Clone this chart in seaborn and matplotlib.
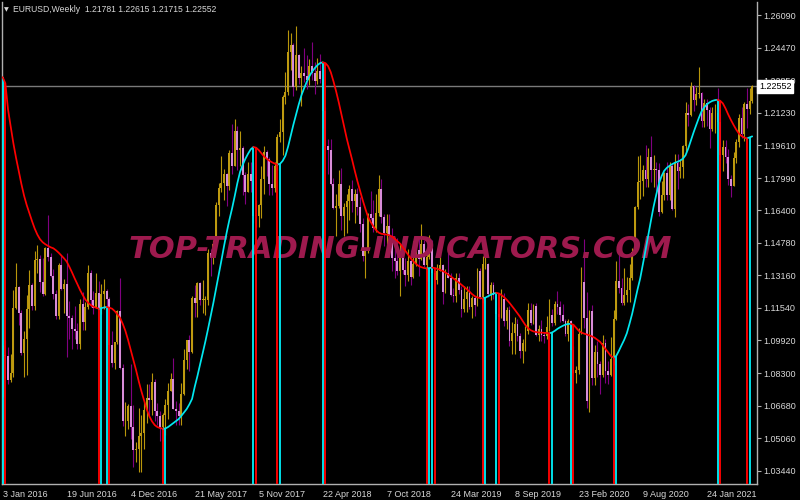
import numpy as np
import pandas as pd
import matplotlib
matplotlib.use("Agg")
import matplotlib.pyplot as plt
import matplotlib.transforms as mtransforms
import seaborn as sns

# ---------------- data (weekly EURUSD, week starting 3 Jan 2016 = bar 0) ----------------
first_open = 1.0865

close = [
    1.0920, 1.0915, 1.0795, 1.0830, 1.1155, 1.1260, 1.1130, 1.0930, 1.1000, 1.1150,
    1.1270, 1.1165, 1.1390, 1.1395, 1.1285, 1.1225, 1.1450, 1.1405, 1.1310, 1.1225,
    1.1115, 1.1365, 1.1250, 1.1275, 1.1115, 1.1105, 1.1050, 1.1040, 1.0975, 1.1175,
    1.1085, 1.1160, 1.1325, 1.1195, 1.1155, 1.1230, 1.1155, 1.1225, 1.1240, 1.1200,
    1.0970, 1.0880, 1.0985, 1.1140, 1.0855, 1.0590, 1.0590, 1.0665, 1.0560, 1.0450,
    1.0455, 1.0520, 1.0530, 1.0645, 1.0705, 1.0695, 1.0785, 1.0640, 1.0615, 1.0560,
    1.0620, 1.0670, 1.0740, 1.0800, 1.0650, 1.0640, 1.0615, 1.0725, 1.0895, 1.0995,
    1.0935, 1.1205, 1.1180, 1.1280, 1.1195, 1.1195, 1.1195, 1.1425, 1.1400, 1.1470,
    1.1665, 1.1750, 1.1775, 1.1820, 1.1760, 1.1925, 1.1860, 1.2035, 1.1940, 1.1950,
    1.1815, 1.1730, 1.1820, 1.1785, 1.1610, 1.1610, 1.1665, 1.1795, 1.1930, 1.1895,
    1.1770, 1.1750, 1.1860, 1.2005, 1.2030, 1.2200, 1.2225, 1.2425, 1.2460, 1.2250,
    1.2410, 1.2295, 1.2320, 1.2305, 1.2285, 1.2355, 1.2320, 1.2280, 1.2330, 1.2290,
    1.2130, 1.1960, 1.1940, 1.1770, 1.1650, 1.1660, 1.1770, 1.1610, 1.1655, 1.1685,
    1.1745, 1.1685, 1.1720, 1.1655, 1.1570, 1.1410, 1.1440, 1.1620, 1.1600, 1.1550,
    1.1625, 1.1745, 1.1605, 1.1525, 1.1560, 1.1510, 1.1400, 1.1385, 1.1335, 1.1415,
    1.1340, 1.1315, 1.1385, 1.1305, 1.1370, 1.1440, 1.1395, 1.1470, 1.1365, 1.1405,
    1.1455, 1.1325, 1.1295, 1.1335, 1.1365, 1.1235, 1.1325, 1.1300, 1.1220, 1.1215,
    1.1300, 1.1245, 1.1150, 1.1200, 1.1235, 1.1160, 1.1205, 1.1170, 1.1335, 1.1210,
    1.1370, 1.1370, 1.1225, 1.1270, 1.1220, 1.1125, 1.1110, 1.1200, 1.1090, 1.1145,
    1.0990, 1.1030, 1.1075, 1.1015, 1.0940, 1.0980, 1.1040, 1.1145, 1.1080, 1.1165,
    1.1020, 1.1050, 1.1020, 1.1015, 1.1060, 1.1120, 1.1080, 1.1175, 1.1160, 1.1120,
    1.1090, 1.1025, 1.1090, 1.0945, 1.0830, 1.0845, 1.1025, 1.1285, 1.1105, 1.0690,
    1.1140, 1.0805, 1.0935, 1.0875, 1.0820, 1.0980, 1.0840, 1.0820, 1.0900, 1.1100,
    1.1290, 1.1255, 1.1180, 1.1220, 1.1245, 1.1300, 1.1430, 1.1655, 1.1780, 1.1785,
    1.1840, 1.1795, 1.1905, 1.1840, 1.1845, 1.1840, 1.1630, 1.1715, 1.1825, 1.1715,
    1.1860, 1.1645, 1.1875, 1.1835, 1.1855, 1.1960, 1.2120, 1.2110, 1.2255, 1.2185,
    1.2215, 1.2220, 1.2080, 1.2170, 1.2135, 1.2045, 1.2120, 1.2120, 1.2075, 1.1915,
    1.1955, 1.1905, 1.1795, 1.1760, 1.1900, 1.1980, 1.2095, 1.2020, 1.2165, 1.2140,
    1.2180, 1.22552,
]

high = [
    1.0970, 1.0993, 1.0960, 1.0927, 1.1245, 1.1376, 1.1265, 1.1145, 1.1040, 1.1218,
    1.1342, 1.1280, 1.1439, 1.1465, 1.1415, 1.1401, 1.1458, 1.1616, 1.1428, 1.1349,
    1.1245, 1.1375, 1.1416, 1.1298, 1.1428, 1.1188, 1.1120, 1.1164, 1.1078, 1.1198,
    1.1234, 1.1185, 1.1366, 1.1341, 1.1240, 1.1327, 1.1286, 1.1272, 1.1298, 1.1250,
    1.1210, 1.1040, 1.0985, 1.1145, 1.1300, 1.0875, 1.0688, 1.0675, 1.0874, 1.0670,
    1.0490, 1.0655, 1.0620, 1.0685, 1.0775, 1.0775, 1.0830, 1.0800, 1.0680, 1.0640,
    1.0630, 1.0700, 1.0780, 1.0830, 1.0905, 1.0690, 1.0680, 1.0780, 1.0950, 1.0995,
    1.1020, 1.1215, 1.1270, 1.1285, 1.1285, 1.1295, 1.1215, 1.1445, 1.1445, 1.1490,
    1.1680, 1.1775, 1.1910, 1.1845, 1.1825, 1.1940, 1.2070, 1.2090, 1.2060, 1.2035,
    1.1960, 1.1830, 1.1880, 1.1880, 1.1880, 1.1690, 1.1670, 1.1860, 1.1960, 1.1940,
    1.1905, 1.1865, 1.1880, 1.2020, 1.2090, 1.2210, 1.2325, 1.2535, 1.2520, 1.2470,
    1.2555, 1.2415, 1.2355, 1.2445, 1.2410, 1.2390, 1.2475, 1.2375, 1.2395, 1.2415,
    1.2340, 1.2150, 1.1995, 1.1995, 1.1800, 1.1720, 1.1840, 1.1850, 1.1675, 1.1720,
    1.1765, 1.1790, 1.1745, 1.1750, 1.1705, 1.1600, 1.1445, 1.1625, 1.1735, 1.1690,
    1.1720, 1.1815, 1.1795, 1.1620, 1.1620, 1.1620, 1.1550, 1.1455, 1.1500, 1.1470,
    1.1470, 1.1400, 1.1445, 1.1440, 1.1485, 1.1485, 1.1500, 1.1570, 1.1490, 1.1450,
    1.1515, 1.1490, 1.1340, 1.1370, 1.1420, 1.1370, 1.1345, 1.1450, 1.1325, 1.1255,
    1.1325, 1.1325, 1.1265, 1.1265, 1.1265, 1.1265, 1.1215, 1.1215, 1.1350, 1.1350,
    1.1410, 1.1410, 1.1375, 1.1285, 1.1285, 1.1230, 1.1160, 1.1250, 1.1230, 1.1160,
    1.1165, 1.1085, 1.1110, 1.1100, 1.1030, 1.1000, 1.1065, 1.1180, 1.1180, 1.1175,
    1.1180, 1.1070, 1.1095, 1.1035, 1.1115, 1.1200, 1.1150, 1.1190, 1.1240, 1.1190,
    1.1175, 1.1100, 1.1100, 1.1095, 1.0965, 1.0865, 1.1055, 1.1355, 1.1495, 1.1235,
    1.1145, 1.1170, 1.0970, 1.0990, 1.0890, 1.1020, 1.1000, 1.0890, 1.1010, 1.1145,
    1.1385, 1.1420, 1.1300, 1.1350, 1.1305, 1.1370, 1.1450, 1.1660, 1.1910, 1.1915,
    1.1865, 1.1965, 1.1950, 1.2010, 1.1915, 1.1880, 1.1875, 1.1785, 1.1830, 1.1880,
    1.1880, 1.1870, 1.1920, 1.1920, 1.1895, 1.1965, 1.2175, 1.2165, 1.2275, 1.2260,
    1.2250, 1.2350, 1.2225, 1.2190, 1.2190, 1.2150, 1.2150, 1.2165, 1.2245, 1.2115,
    1.1990, 1.1990, 1.1945, 1.1815, 1.1930, 1.1995, 1.2115, 1.2150, 1.2175, 1.2245,
    1.2245, 1.22615,
]

low = [
    1.0711, 1.0805, 1.0778, 1.0785, 1.0810, 1.1150, 1.1070, 1.0920, 1.0810, 1.0822,
    1.1055, 1.1145, 1.1145, 1.1325, 1.1234, 1.1215, 1.1216, 1.1385, 1.1305, 1.1200,
    1.1099, 1.1097, 1.1245, 1.1131, 1.0912, 1.0998, 1.0952, 1.1000, 1.0952, 1.0952,
    1.1045, 1.1045, 1.1150, 1.1157, 1.1123, 1.1155, 1.1150, 1.1125, 1.1150, 1.1050,
    1.0955, 1.0860, 1.0851, 1.0975, 1.0850, 1.0569, 1.0518, 1.0550, 1.0505, 1.0365,
    1.0390, 1.0340, 1.0340, 1.0455, 1.0580, 1.0620, 1.0620, 1.0590, 1.0570, 1.0495,
    1.0495, 1.0525, 1.0600, 1.0740, 1.0650, 1.0570, 1.0570, 1.0570, 1.0720, 1.0850,
    1.0840, 1.0930, 1.1110, 1.1110, 1.1170, 1.1130, 1.1120, 1.1170, 1.1310, 1.1370,
    1.1460, 1.1610, 1.1730, 1.1690, 1.1660, 1.1740, 1.1820, 1.1860, 1.1840, 1.1860,
    1.1715, 1.1670, 1.1730, 1.1730, 1.1575, 1.1555, 1.1555, 1.1600, 1.1720, 1.1810,
    1.1715, 1.1715, 1.1730, 1.1840, 1.1980, 1.1915, 1.2165, 1.2210, 1.2335, 1.2205,
    1.2235, 1.2265, 1.2155, 1.2275, 1.2240, 1.2260, 1.2285, 1.2215, 1.2265, 1.2270,
    1.2050, 1.1940, 1.1820, 1.1765, 1.1645, 1.1510, 1.1650, 1.1540, 1.1510, 1.1525,
    1.1590, 1.1630, 1.1575, 1.1615, 1.1530, 1.1385, 1.1300, 1.1425, 1.1590, 1.1530,
    1.1530, 1.1610, 1.1575, 1.1460, 1.1430, 1.1430, 1.1335, 1.1300, 1.1315, 1.1215,
    1.1320, 1.1265, 1.1290, 1.1270, 1.1300, 1.1360, 1.1310, 1.1390, 1.1355, 1.1290,
    1.1395, 1.1320, 1.1235, 1.1275, 1.1335, 1.1175, 1.1230, 1.1300, 1.1215, 1.1185,
    1.1185, 1.1225, 1.1110, 1.1135, 1.1135, 1.1150, 1.1105, 1.1115, 1.1165, 1.1200,
    1.1180, 1.1345, 1.1210, 1.1195, 1.1200, 1.1100, 1.1025, 1.1105, 1.1065, 1.1050,
    1.0965, 1.0925, 1.0925, 1.0990, 1.0905, 1.0880, 1.0940, 1.1025, 1.1070, 1.1075,
    1.1015, 1.0990, 1.0990, 1.0980, 1.1000, 1.1040, 1.1065, 1.1070, 1.1125, 1.1085,
    1.1085, 1.1015, 1.0990, 1.0945, 1.0830, 1.0780, 1.0825, 1.1025, 1.1055, 1.0655,
    1.0635, 1.0770, 1.0770, 1.0810, 1.0725, 1.0810, 1.0780, 1.0775, 1.0815, 1.0870,
    1.1095, 1.1230, 1.1170, 1.1170, 1.1185, 1.1185, 1.1295, 1.1420, 1.1645, 1.1695,
    1.1710, 1.1755, 1.1755, 1.1780, 1.1755, 1.1735, 1.1610, 1.1625, 1.1690, 1.1690,
    1.1690, 1.1640, 1.1605, 1.1745, 1.1800, 1.1800, 1.1925, 1.2060, 1.2105, 1.2130,
    1.2160, 1.2195, 1.2055, 1.2055, 1.2060, 1.1950, 1.2035, 1.2025, 1.2070, 1.1890,
    1.1835, 1.1875, 1.1765, 1.1705, 1.1760, 1.1875, 1.1955, 1.2000, 1.1985, 1.2050,
    1.2115, 1.21715,
]

# smoothed trend line (one value per weekly bar)
trend = [
    1.2300, 1.2270, 1.2140, 1.2055, 1.1972, 1.1900, 1.1835, 1.1770, 1.1712, 1.1665,
    1.1625, 1.1585, 1.1548, 1.1518, 1.1495, 1.1480, 1.1470, 1.1462, 1.1455, 1.1450,
    1.1440, 1.1428, 1.1414, 1.1400, 1.1384, 1.1358, 1.1330, 1.1300, 1.1272, 1.1243,
    1.1218, 1.1195, 1.1180, 1.1168, 1.1160, 1.1155, 1.1150, 1.1153, 1.1156, 1.1159,
    1.1155, 1.1150, 1.1138, 1.1122, 1.1105, 1.1075, 1.1040, 1.0995, 1.0945, 1.0895,
    1.0845, 1.0790, 1.0740, 1.0695, 1.0650, 1.0615, 1.0590, 1.0572, 1.0562, 1.0557,
    1.0554, 1.0555, 1.0562, 1.0572, 1.0582, 1.0592, 1.0602, 1.0618, 1.0635, 1.0652,
    1.0675, 1.0702, 1.0762, 1.0815, 1.0873, 1.0930, 1.0988, 1.1050, 1.1115, 1.1180,
    1.1250, 1.1320, 1.1390, 1.1462, 1.1530, 1.1592, 1.1648, 1.1710, 1.1775, 1.1830,
    1.1865, 1.1895, 1.1920, 1.1942, 1.1953, 1.1950, 1.1938, 1.1922, 1.1906, 1.1895,
    1.1885, 1.1877, 1.1871, 1.1866, 1.1870, 1.1885, 1.1910, 1.1955, 1.2010, 1.2065,
    1.2115, 1.2165, 1.2210, 1.2245, 1.2277, 1.2305, 1.2328, 1.2345, 1.2360, 1.2370,
    1.2374, 1.2370, 1.2355, 1.2325, 1.2280, 1.2230, 1.2175, 1.2115, 1.2055, 1.1995,
    1.1942, 1.1890, 1.1835, 1.1783, 1.1735, 1.1688, 1.1645, 1.1605, 1.1580, 1.1558,
    1.1540, 1.1528, 1.1522, 1.1520, 1.1518, 1.1515, 1.1508, 1.1497, 1.1485, 1.1473,
    1.1455, 1.1437, 1.1418, 1.1400, 1.1385, 1.1372, 1.1362, 1.1356, 1.1352, 1.1350,
    1.1352, 1.1354, 1.1352, 1.1348, 1.1343, 1.1337, 1.1330, 1.1320, 1.1310, 1.1300,
    1.1290, 1.1280, 1.1269, 1.1258, 1.1247, 1.1235, 1.1222, 1.1212, 1.1206, 1.1203,
    1.1201, 1.1205, 1.1212, 1.1219, 1.1225, 1.1229, 1.1226, 1.1218, 1.1207, 1.1194,
    1.1179, 1.1162, 1.1145, 1.1127, 1.1109, 1.1088, 1.1068, 1.1053, 1.1043, 1.1037,
    1.1034, 1.1032, 1.1031, 1.1030, 1.1029, 1.1028, 1.1032, 1.1040, 1.1050, 1.1058,
    1.1065, 1.1071, 1.1074, 1.1075, 1.1070, 1.1055, 1.1040, 1.1031, 1.1026, 1.1022,
    1.1017, 1.1012, 1.1005, 1.0995, 1.0985, 1.0968, 1.0950, 1.0933, 1.0915, 1.0908,
    1.0915, 1.0940, 1.0968, 1.0995, 1.1028, 1.1075, 1.1125, 1.1185, 1.1245, 1.1300,
    1.1370, 1.1440, 1.1512, 1.1585, 1.1655, 1.1715, 1.1770, 1.1808, 1.1835, 1.1850,
    1.1860, 1.1868, 1.1875, 1.1880, 1.1886, 1.1895, 1.1912, 1.1945, 1.1985, 1.2025,
    1.2062, 1.2098, 1.2130, 1.2150, 1.2165, 1.2175, 1.2182, 1.2186, 1.2188, 1.2183,
    1.2170, 1.2145, 1.2115, 1.2088, 1.2063, 1.2040, 1.2020, 1.2008, 1.2000, 1.1996,
    1.2001, 1.2006,
]

bid_price = 1.22552
header = "EURUSD,Weekly  1.21781 1.22615 1.21715 1.22552"

ytick_vals = [1.03440, 1.05060, 1.06680, 1.08300, 1.09920, 1.11540, 1.13160,
              1.14780, 1.16400, 1.17990, 1.19610, 1.21230, 1.22850, 1.24470, 1.26090]
ytick_labels = ["%.5f" % v for v in ytick_vals]

xtick_bars = [0, 24, 48, 72, 96, 120, 144, 168, 192, 216, 240, 264]
xtick_labels = ["3 Jan 2016", "19 Jun 2016", "4 Dec 2016", "21 May 2017", "5 Nov 2017",
                "22 Apr 2018", "7 Oct 2018", "24 Mar 2019", "8 Sep 2019", "23 Feb 2020",
                "9 Aug 2020", "24 Jan 2021"]

# ---------------- styling ----------------
sns.set_style("dark", {"axes.facecolor": "black", "figure.facecolor": "black"})
plt.rcParams["font.family"] = ["Liberation Sans", "DejaVu Sans"]

UP_BODY = "#BE9A10"
UP_WICK = "#B8960B"
DN_BODY = "#D88CD8"
DN_WICK = "#800080"
RED = "#FF0000"
CYAN = "#00E8F0"
TXT = "#D8D8D8"
FRAME = "#B0B0B0"

close_a = np.array(close)
high_a = np.array(high)
low_a = np.array(low)
trend_a = np.array(trend)
n = len(close_a)
bars = np.arange(n)
open_a = np.concatenate([[first_open], close_a[:-1]])

fig = plt.figure(figsize=(8, 5), dpi=100, facecolor="black")
ax = fig.add_axes([2 / 800, 16 / 500, 755 / 800, 482 / 500])
ax.set_facecolor("black")

YMIN, YMAX = 1.02791, 1.26736
ax.set_xlim(-0.26, 282.8)
ax.set_ylim(YMIN, YMAX)

# bid line
ax.axhline(bid_price, color="#7A7A7A", lw=1.0, zorder=1)

# candles
up = close_a >= open_a
ax.vlines(bars[up], low_a[up], high_a[up], color=UP_WICK, lw=0.8, zorder=2)
ax.vlines(bars[~up], low_a[~up], high_a[~up], color=DN_WICK, lw=0.8, zorder=2)
body_lo = np.minimum(open_a, close_a)
body_h = np.maximum(np.abs(close_a - open_a), 0.0004)
ax.bar(bars[up], body_h[up], bottom=body_lo[up], width=0.72, color=UP_BODY,
       linewidth=0, zorder=3)
ax.bar(bars[~up], body_h[~up], bottom=body_lo[~up], width=0.72, color=DN_BODY,
       linewidth=0, zorder=3)

# trend line coloured by direction
dirs = np.concatenate([[1], np.sign(np.diff(trend_a))])
rows = []
seg = 0
start = 0
for i in range(1, n + 1):
    if i == n or dirs[i] != dirs[start]:
        lab = "up" if dirs[start] > 0 else "down"
        for j in range(max(start - 1, 0), i):
            rows.append((j, trend_a[j], seg, lab))
        seg += 1
        start = i
df = pd.DataFrame(rows, columns=["bar", "val", "seg", "dir"])
sns.lineplot(data=df, x="bar", y="val", hue="dir", units="seg", estimator=None,
             palette={"up": CYAN, "down": RED}, lw=1.25, legend=False, sort=False,
             ax=ax, zorder=6)

# signal bars at turning points
chg = np.where(dirs[1:] != dirs[:-1])[0] + 1
sx, sy, sc = [], [], []
for i in chg:
    for j in (i - 1, i):
        sx.append(j)
        sy.append(trend_a[j])
        sc.append(CYAN if dirs[j] > 0 else RED)
ax.vlines(sx, YMIN, sy, colors=sc, lw=1.35, zorder=5)

# watermark
ax.text(400 / 800, 1 - 249 / 500, "TOP-TRADING-INDICATORS.COM", transform=fig.transFigure,
        ha="center", va="center", color="#9E1A4E", fontsize=22, fontweight="bold",
        fontstyle="italic", family=["DejaVu Sans"], zorder=4)

# axes decoration
ax.spines["top"].set_visible(False)
for side in ["left", "right", "bottom"]:
    ax.spines[side].set_visible(True)
    ax.spines[side].set_color(FRAME)
    ax.spines[side].set_linewidth(1.0)

ax.yaxis.tick_right()
ax.set_yticks(ytick_vals)
ax.set_yticklabels(ytick_labels)
ax.set_xticks(xtick_bars)
ax.set_xticklabels(xtick_labels, ha="left")
ax.tick_params(axis="both", colors=FRAME, labelcolor=TXT, labelsize=6.5, length=3,
               width=0.8, direction="out", pad=1.5)
ax.tick_params(axis="x", pad=1.5)
ax.set_xlabel("")
ax.set_ylabel("")
ax.grid(False)

# current price box
trans = mtransforms.blended_transform_factory(ax.transAxes, ax.transData)
ax.text(1.0 + 2 / 755, bid_price, "1.22552", transform=trans, ha="left", va="center",
        fontsize=6.5, color="black", clip_on=False, zorder=10,
        bbox=dict(boxstyle="square,pad=0.2", fc="white", ec="white"))

# header
fig.text(4 / 800, 1 - 10 / 500, "\u25BC", color=TXT, fontsize=4.5, va="center",
         family=["DejaVu Sans"])
fig.text(13 / 800, 1 - 10 / 500, header, color=TXT, fontsize=6.2, va="center")

fig.savefig("out.png", dpi=100, facecolor="black")
